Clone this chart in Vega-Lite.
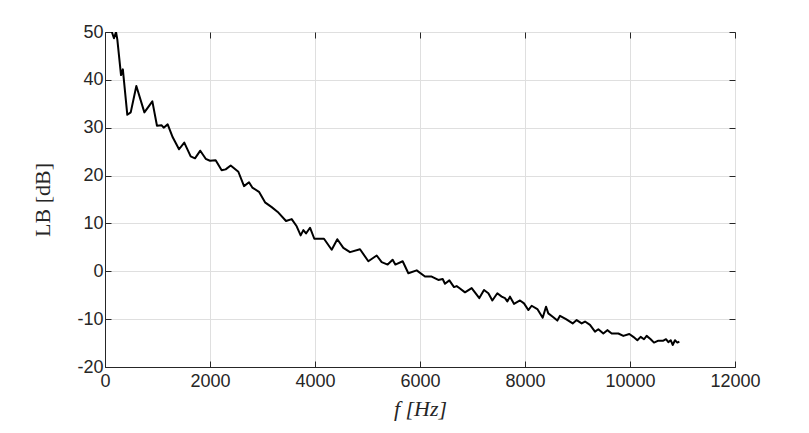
{
  "$schema": "https://vega.github.io/schema/vega-lite/v6.json",
  "width": 630,
  "height": 335,
  "autosize": "none",
  "padding": {"left": 105, "top": 32, "right": 74, "bottom": 66},
  "background": "white",
  "config": {
    "view": {"stroke": "#262626", "strokeWidth": 1},
    "axis": {
      "grid": true,
      "gridColor": "#dfdfdf",
      "gridWidth": 1,
      "domainColor": "#262626",
      "tickColor": "#262626",
      "tickSize": -6,
      "labelFont": "Liberation Sans",
      "labelFontSize": 18,
      "labelColor": "#262626",
      "labelOverlap": false,
      "labelFlush": false,
      "labelExpr": "toString(datum.value)",
      "titleFont": "Liberation Serif",
      "titleFontSize": 22,
      "titleFontWeight": "normal",
      "titleColor": "#262626"
    }
  },
  "data": {
    "values": [
      {"f": 100, "L": 51}, {"f": 171, "L": 48.7}, {"f": 210, "L": 50}, {"f": 235, "L": 48.4},
      {"f": 305, "L": 41}, {"f": 340, "L": 42.2}, {"f": 425, "L": 32.7}, {"f": 490, "L": 33.2},
      {"f": 597, "L": 38.7}, {"f": 750, "L": 33.2}, {"f": 902, "L": 35.5}, {"f": 990, "L": 30.4},
      {"f": 1080, "L": 30.5}, {"f": 1118, "L": 30}, {"f": 1194, "L": 30.7}, {"f": 1290, "L": 28},
      {"f": 1410, "L": 25.5}, {"f": 1510, "L": 26.9}, {"f": 1632, "L": 24}, {"f": 1714, "L": 23.6},
      {"f": 1815, "L": 25.2}, {"f": 1918, "L": 23.5}, {"f": 2000, "L": 23.1}, {"f": 2108, "L": 23.2},
      {"f": 2222, "L": 21.1}, {"f": 2298, "L": 21.3}, {"f": 2394, "L": 22.1}, {"f": 2540, "L": 20.8},
      {"f": 2648, "L": 17.8}, {"f": 2743, "L": 18.6}, {"f": 2806, "L": 17.5}, {"f": 2933, "L": 16.6},
      {"f": 3048, "L": 14.4}, {"f": 3175, "L": 13.4}, {"f": 3290, "L": 12.4}, {"f": 3448, "L": 10.5},
      {"f": 3556, "L": 10.9}, {"f": 3651, "L": 9.4}, {"f": 3727, "L": 7.5}, {"f": 3778, "L": 8.6},
      {"f": 3829, "L": 7.9}, {"f": 3905, "L": 9.1}, {"f": 3987, "L": 6.8}, {"f": 4171, "L": 6.8},
      {"f": 4318, "L": 4.5}, {"f": 4425, "L": 6.7}, {"f": 4540, "L": 4.9}, {"f": 4667, "L": 4.0},
      {"f": 4857, "L": 4.6}, {"f": 5016, "L": 2.1}, {"f": 5175, "L": 3.3}, {"f": 5270, "L": 1.9},
      {"f": 5384, "L": 1.4}, {"f": 5479, "L": 2.4}, {"f": 5530, "L": 1.4}, {"f": 5670, "L": 2.1},
      {"f": 5778, "L": -0.4}, {"f": 5937, "L": 0.2}, {"f": 6095, "L": -1.1}, {"f": 6222, "L": -1.1},
      {"f": 6349, "L": -1.8}, {"f": 6432, "L": -1.6}, {"f": 6476, "L": -2.6}, {"f": 6559, "L": -1.9},
      {"f": 6648, "L": -3.3}, {"f": 6698, "L": -3.1}, {"f": 6749, "L": -3.5}, {"f": 6857, "L": -4.4},
      {"f": 6984, "L": -3.5}, {"f": 7130, "L": -5.6}, {"f": 7219, "L": -3.9}, {"f": 7302, "L": -4.6},
      {"f": 7378, "L": -6.1}, {"f": 7473, "L": -4.6}, {"f": 7556, "L": -5.3}, {"f": 7619, "L": -5.6},
      {"f": 7663, "L": -6.3}, {"f": 7714, "L": -5.3}, {"f": 7790, "L": -6.8}, {"f": 7905, "L": -6.1},
      {"f": 7981, "L": -6.7}, {"f": 8063, "L": -8.1}, {"f": 8127, "L": -7.2}, {"f": 8235, "L": -7.9},
      {"f": 8337, "L": -9.7}, {"f": 8400, "L": -7.4}, {"f": 8444, "L": -8.8}, {"f": 8540, "L": -9.6},
      {"f": 8616, "L": -10.3}, {"f": 8667, "L": -9.3}, {"f": 8781, "L": -10.0}, {"f": 8908, "L": -10.9},
      {"f": 8984, "L": -10.2}, {"f": 9079, "L": -10.9}, {"f": 9143, "L": -10.5}, {"f": 9238, "L": -11.2},
      {"f": 9333, "L": -12.6}, {"f": 9397, "L": -12.1}, {"f": 9492, "L": -13.0}, {"f": 9568, "L": -12.3},
      {"f": 9651, "L": -13.0}, {"f": 9778, "L": -13.0}, {"f": 9873, "L": -13.5}, {"f": 9987, "L": -13.1},
      {"f": 10063, "L": -13.7}, {"f": 10140, "L": -14.4}, {"f": 10203, "L": -13.7}, {"f": 10267, "L": -14.2},
      {"f": 10317, "L": -13.5}, {"f": 10394, "L": -14.2}, {"f": 10457, "L": -14.9}, {"f": 10540, "L": -14.5},
      {"f": 10635, "L": -14.5}, {"f": 10686, "L": -14.2}, {"f": 10730, "L": -14.8}, {"f": 10775, "L": -14.4},
      {"f": 10813, "L": -15.4}, {"f": 10857, "L": -14.4}, {"f": 10902, "L": -14.9}, {"f": 10940, "L": -14.7}
    ]
  },
  "layer": [
    {
      "mark": {"type": "line", "color": "black", "strokeWidth": 2, "clip": true, "strokeJoin": "round"},
      "encoding": {
        "x": {"field": "f", "type": "quantitative", "scale": {"domain": [0, 12000], "nice": false},
              "axis": {"title": "f  [Hz]", "titleFontStyle": "italic", "values": [0, 2000, 4000, 6000, 8000, 10000, 12000], "labelPadding": 11, "titlePadding": 8}},
        "y": {"field": "L", "type": "quantitative", "scale": {"domain": [-20, 50], "nice": false, "zero": false},
              "axis": {"title": "LB [dB]", "values": [-20, -10, 0, 10, 20, 30, 40, 50], "labelPadding": 8, "titlePadding": 22}}
      }
    },
    {
      "mark": {"type": "line", "opacity": 0},
      "encoding": {
        "x": {"field": "f", "type": "quantitative", "scale": {"domain": [0, 12000], "nice": false},
              "axis": {"orient": "top", "title": null, "labels": false, "grid": false, "domain": false, "values": [0, 2000, 4000, 6000, 8000, 10000, 12000]}},
        "y": {"field": "L", "type": "quantitative", "scale": {"domain": [-20, 50], "nice": false, "zero": false},
              "axis": {"orient": "right", "title": null, "labels": false, "grid": false, "domain": false, "values": [-20, -10, 0, 10, 20, 30, 40, 50]}}
      }
    }
  ],
  "resolve": {"axis": {"x": "independent", "y": "independent"}}
}
